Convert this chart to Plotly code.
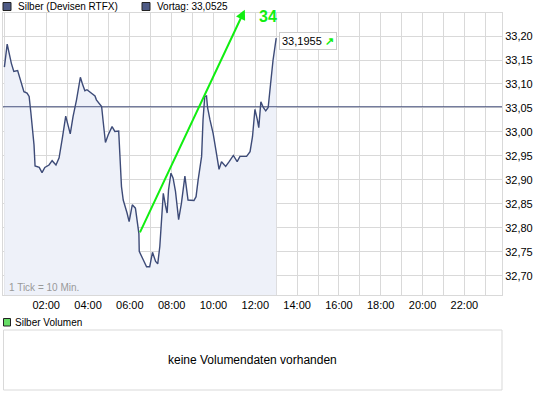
import plotly.graph_objects as go

# ---- data ----
times_min = [0, 8, 20, 27, 38, 56, 65, 71, 76, 85, 88, 100, 108, 116, 128, 137, 148, 157, 167, 176,
             189, 197, 207, 218, 224, 231, 237, 260, 264, 279, 283, 286, 290, 298, 309, 317, 328, 336,
             341, 352, 358, 367, 376, 386, 387, 396, 408, 417, 425, 434, 440, 446, 456, 463, 467, 471,
             478, 484, 491, 500, 508, 518, 527, 544, 550, 556, 566, 570, 575, 580, 583, 590, 599, 607,
             616, 623, 635, 645, 657, 668, 676, 695, 705, 712, 719, 726, 730, 736, 743, 750, 757, 764,
             771, 780]
prices = [33.135, 33.183, 33.143, 33.126, 33.128, 33.084, 33.081, 33.074, 33.040, 32.973,
          32.929, 32.926, 32.915, 32.926, 32.931, 32.940, 32.931, 32.946, 32.990, 33.033,
          32.996, 33.032, 33.067, 33.114, 33.100, 33.086, 33.088, 33.075, 33.067, 33.053,
          33.025, 33.004, 32.978, 32.994, 33.011, 33.001, 33.002, 32.886, 32.858, 32.831,
          32.813, 32.848, 32.841, 32.788, 32.751, 32.737, 32.719, 32.719, 32.749, 32.730,
          32.725, 32.761, 32.872, 32.844, 32.831, 32.879, 32.914, 32.904, 32.876, 32.817,
          32.851, 32.908, 32.858, 32.857, 32.865, 32.900, 32.949, 33.025, 33.074, 33.075,
          33.051, 33.025, 32.997, 32.962, 32.922, 32.938, 32.928, 32.938, 32.951, 32.938,
          32.949, 32.949, 32.959, 32.990, 33.047, 33.025, 33.009, 33.063, 33.051, 33.044,
          33.051, 33.101, 33.150, 33.1955]
prev_close = 33.0525
trend_start = (387, 32.7875)   # (minutes, price)
trend_end = (690, 33.255)
trend_label = "34"
series_name = "Silber (Devisen RTFX)"
volume_name = "Silber Volumen"
volume_msg = "keine Volumendaten vorhanden"
hour_ticks = list(range(0, 24))
tick_labels = [f"{h:02d}:00" if h % 2 == 0 and h > 0 else "" for h in hour_ticks]
y_ticks = [32.70, 32.75, 32.80, 32.85, 32.90, 32.95, 33.00, 33.05, 33.10, 33.15, 33.20]

W, H = 545, 398
ML, MR, MT, MB = 3, 43, 13, 8
PW, PH = W - ML - MR, H - MT - MB


def px(x):
    return (x - ML) / PW


def py(y):
    return (H - MB - y) / PH


main_bottom = py(295)
vol_top = py(330)

FONT = "Liberation Sans, Arial, sans-serif"
GRID = "#d9d9d9"
LINE = "#3d4b78"
GREEN = "#11ee11"


def de(v, n):
    return f"{v:.{n}f}".replace(".", ",")


fig = go.Figure()
fig.add_trace(go.Scatter(
    x=times_min, y=prices, mode="lines",
    line=dict(color=LINE, width=1.4),
    fill="tozeroy", fillcolor="#eef1f9",
    showlegend=False, hoverinfo="skip"))

fig.update_layout(
    width=W, height=H,
    margin=dict(l=ML, r=MR, t=MT, b=MB, autoexpand=False),
    paper_bgcolor="white", plot_bgcolor="white",
    separators=",.",
    font=dict(family=FONT, size=11, color="#000"),
    showlegend=False,
    xaxis=dict(range=[-4, 1428], tickvals=[h * 60 for h in hour_ticks], ticktext=tick_labels,
               showgrid=True, gridcolor=GRID, gridwidth=1, zeroline=False, automargin=False,
               showline=True, linecolor=GRID, mirror=True, ticks="", tickfont=dict(size=11),
               anchor="y"),
    yaxis=dict(domain=[main_bottom, 1], range=[32.66, 33.248], side="right", automargin=False,
               tickvals=y_ticks, tickformat=".2f", showgrid=True, gridcolor=GRID,
               zeroline=False, showline=True, linecolor=GRID, mirror=True, ticks="",
               tickfont=dict(size=11)),
)

# reference line (Vortag)
fig.add_shape(type="line", xref="paper", x0=0, x1=1, yref="y", y0=prev_close, y1=prev_close,
              line=dict(color="#46507c", width=1.2))

# trend arrow
fig.add_annotation(x=trend_end[0], y=trend_end[1], ax=trend_start[0], ay=trend_start[1],
                   xref="x", yref="y", axref="x", ayref="y", text="", showarrow=True,
                   arrowhead=2, arrowsize=1, arrowwidth=2, arrowcolor=GREEN)
fig.add_annotation(x=px(256.5), y=py(16), xref="paper", yref="paper", text=f"<b>{trend_label}</b>",
                   showarrow=False, xanchor="left", yanchor="middle",
                   font=dict(size=16, color=GREEN, family=FONT))

# last price box
fig.add_annotation(x=times_min[-1], y=prices[-1], xref="x", yref="y",
                   text=f"{de(prices[-1], 4)} <span style='color:{GREEN}'><b>↗</b></span>",
                   showarrow=False, xanchor="left", yanchor="middle", xshift=3, yshift=-3,
                   bgcolor="white", bordercolor="#cccccc", borderwidth=1, borderpad=2,
                   font=dict(size=11, color="#000"))

# tick info
fig.add_annotation(x=px(7), y=py(287), xref="paper", yref="paper", text="1 Tick = 10 Min.",
                   showarrow=False, xanchor="left", yanchor="middle",
                   font=dict(size=10, color="#999999"))

# header legend
for sx, label in [(3, series_name), (142, f"Vortag: {de(prev_close, 4)}")]:
    fig.add_shape(type="rect", xref="paper", yref="paper",
                  x0=px(sx), x1=px(sx + 8), y0=py(10.5), y1=py(2.5),
                  fillcolor="#4d5a85", line=dict(color="#222", width=1))
    fig.add_annotation(x=px(sx + 13), y=py(6.5), xref="paper", yref="paper", text=label,
                       showarrow=False, xanchor="left", yanchor="middle",
                       font=dict(size=10, color="#000"))

# volume panel
fig.add_shape(type="rect", xref="paper", yref="paper",
              x0=px(3.5), x1=px(502), y0=0, y1=vol_top,
              fillcolor="rgba(0,0,0,0)", line=dict(color=GRID, width=1))
fig.add_shape(type="rect", xref="paper", yref="paper",
              x0=px(3.5), x1=px(10.5), y0=py(326), y1=py(318.5),
              fillcolor="#66dd66", line=dict(color="#222", width=1))
fig.add_annotation(x=px(13), y=py(322.5), xref="paper", yref="paper", text=volume_name,
                   showarrow=False, xanchor="left", yanchor="middle",
                   font=dict(size=10, color="#000"))
fig.add_annotation(x=0.5, y=vol_top / 2, xref="paper", yref="paper", text=volume_msg,
                   showarrow=False, xanchor="center", yanchor="middle",
                   font=dict(size=12, color="#000"))

fig.write_html("out.html", config={"displayModeBar": False},
               post_script="document.body.style.margin='0';document.body.style.overflow='hidden';")
